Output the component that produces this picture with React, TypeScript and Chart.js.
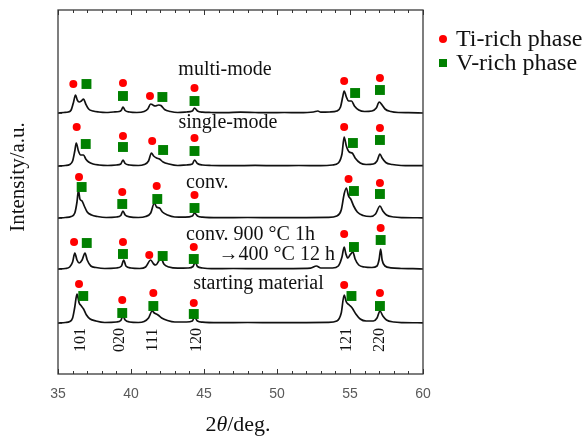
import React, { useEffect, useRef } from "react";
import { Chart, registerables } from "chart.js";
Chart.register(...registerables);

// ---------- data ----------
const xMin = 35;
const xMax = 60;
const xTickStep = 5;
const yMin = 0;
const yMax = 364;

const sampleNames = ["multi-mode", "single-mode", "conv.", "conv. 900 °C 1h", "starting material"];
const sampleSubNames = ["", "", "", "→400 °C 12 h", ""];
const stackOffsets = [261, 208, 156, 105, 51];

// [2θ, intensity above own baseline]
const multiMode: number[][] = [
  [35, 0], [35.4, 0.5], [35.7, 1], [35.9, 3], [36.05, 10], [36.2, 18], [36.32, 13], [36.45, 11], [36.6, 12], [36.75, 14],
  [36.9, 9], [37.1, 4], [37.4, 2], [37.8, 1], [38.3, 0.5], [38.8, 1], [39.2, 1.5], [39.35, 3], [39.45, 6], [39.6, 2.5],
  [39.9, 1], [40.4, 0.5], [40.9, 1.5], [41.15, 4], [41.35, 9], [41.5, 8], [41.65, 7], [41.9, 8], [42.05, 7.5], [42.3, 3.5],
  [42.7, 1.5], [43.2, 0.5], [43.8, 1], [44.2, 2], [44.35, 5], [44.55, 2], [44.9, 0.8], [45.5, 0.5], [46.5, 0.3], [47.5, 0.8],
  [48.5, 0.5], [49.5, 0.3], [50.5, 0.5], [51.5, 0.3], [52.5, 1], [52.8, 2], [53.0, 0.8], [53.6, 1], [54.1, 2], [54.35, 6],
  [54.5, 16], [54.6, 22], [54.75, 16], [54.9, 12], [55.1, 12], [55.3, 7], [55.6, 3], [56.0, 1.5], [56.5, 2], [56.8, 5],
  [57.0, 11], [57.2, 8], [57.4, 4], [57.8, 1.5], [58.3, 0.5], [59, 0.3], [60, 0],
];
const singleMode: number[][] = [
  [35, 0], [35.5, 0.5], [35.8, 1.5], [36.0, 5], [36.15, 15], [36.25, 23], [36.4, 15], [36.55, 11], [36.75, 11], [36.9, 7],
  [37.1, 4], [37.4, 2], [37.8, 1], [38.4, 0.5], [39.0, 1], [39.3, 2], [39.45, 6], [39.6, 2.5], [39.9, 1], [40.5, 0.5],
  [40.9, 1.5], [41.2, 5], [41.4, 13], [41.55, 10], [41.75, 8], [41.95, 7], [42.2, 4], [42.6, 2], [43.2, 0.5], [43.8, 1],
  [44.2, 2], [44.35, 6], [44.55, 2.5], [44.9, 1], [45.5, 0.5], [47, 0.3], [48.5, 0.6], [50, 0.3], [51.5, 0.5], [53, 0.3],
  [53.8, 1], [54.2, 3], [54.45, 12], [54.6, 29], [54.75, 20], [54.95, 14], [55.15, 13], [55.35, 8], [55.7, 3], [56.1, 1.5],
  [56.6, 2], [56.85, 5], [57.05, 12], [57.2, 8], [57.45, 3.5], [57.9, 1.5], [58.5, 0.5], [59.2, 0.3], [60, 0.3],
];
const conventional: number[][] = [
  [35, 0], [35.5, 0.5], [35.9, 1.5], [36.15, 5], [36.3, 16], [36.4, 28], [36.5, 19], [36.65, 17], [36.8, 12], [37.0, 6],
  [37.3, 3], [37.7, 1.5], [38.3, 0.5], [39.0, 1], [39.3, 2.5], [39.45, 7], [39.6, 3], [39.9, 1.2], [40.5, 0.5], [41.0, 1.5],
  [41.35, 5], [41.6, 15], [41.75, 11], [41.95, 10], [42.15, 6], [42.5, 3], [43.0, 1], [43.7, 0.8], [44.2, 2], [44.35, 5],
  [44.55, 2], [44.9, 0.8], [46, 0.3], [48, 0.5], [50, 0.3], [52, 0.4], [53.5, 0.6], [54.1, 2], [54.4, 8], [54.6, 24],
  [54.75, 30], [54.9, 22], [55.05, 19], [55.25, 12], [55.5, 6], [55.9, 2.5], [56.4, 1.5], [56.75, 4], [57.05, 12], [57.25, 7],
  [57.5, 3], [58, 1], [58.6, 0.4], [60, 0.2],
];
const annealed: number[][] = [
  [35, 0], [35.5, 0.5], [35.8, 2], [36.0, 7], [36.15, 16], [36.3, 9], [36.45, 6], [36.65, 9], [36.85, 16], [37.0, 9],
  [37.25, 3], [37.6, 1.5], [38.2, 0.5], [39.0, 1], [39.35, 3], [39.5, 9], [39.65, 3], [40.0, 1], [40.6, 0.5], [41.0, 2],
  [41.35, 9], [41.55, 5], [41.7, 4], [41.9, 8], [42.05, 11], [42.25, 5], [42.6, 2], [43.2, 0.8], [43.9, 1], [44.25, 2.5],
  [44.4, 7], [44.55, 2.5], [44.9, 1], [45.5, 0.3], [47, 0.5], [49, 0.3], [51, 0.4], [52.3, 0.8], [52.7, 3], [53.0, 1],
  [53.8, 1], [54.2, 3], [54.45, 12], [54.6, 22], [54.72, 15], [54.85, 11], [55.0, 14], [55.2, 17], [55.35, 10], [55.6, 4],
  [56.0, 2], [56.5, 1.5], [56.85, 3], [57.0, 10], [57.1, 20], [57.2, 9], [57.4, 3], [57.8, 1.2], [58.5, 0.5], [59.3, 0.3],
  [60, 0],
];
const startingMaterial: number[][] = [
  [35, 0], [35.5, 0.5], [35.8, 1.5], [36.0, 5], [36.15, 16], [36.3, 29], [36.45, 20], [36.6, 17], [36.75, 14], [36.95, 8],
  [37.2, 4], [37.6, 2], [38.2, 0.5], [39.0, 1], [39.3, 2.5], [39.45, 7], [39.6, 3], [39.9, 1], [40.5, 0.5], [40.9, 1.5],
  [41.2, 5], [41.45, 12], [41.6, 10], [41.85, 8], [42.1, 5], [42.5, 2.5], [43.0, 1], [43.8, 1], [44.2, 2], [44.35, 6],
  [44.55, 2], [44.9, 0.8], [46, 0.3], [48, 0.5], [50, 0.3], [52, 0.4], [53.5, 0.6], [54.1, 2], [54.4, 10], [54.6, 28],
  [54.75, 21], [54.95, 18], [55.15, 15], [55.4, 9], [55.7, 4], [56.1, 2], [56.6, 2], [56.85, 5], [57.05, 12], [57.25, 7],
  [57.5, 3], [58, 1], [58.6, 0.4], [60, 0.2],
];
const traces = [multiMode, singleMode, conventional, annealed, startingMaterial];

// marker positions [2θ, absolute stacked intensity]
const tiRichMarks: number[][] = [
  [36.05, 290], [39.45, 291], [41.3, 278], [44.35, 286], [54.6, 293], [57.05, 296],
  [36.28, 247], [39.45, 238], [41.45, 233], [44.35, 236], [54.6, 247], [57.05, 246],
  [36.44, 197], [39.4, 182], [41.76, 188], [44.35, 179], [54.9, 195], [57.05, 191],
  [36.1, 132], [39.45, 132], [41.25, 119], [44.3, 127], [54.6, 140], [57.1, 146],
  [36.44, 90], [39.4, 74], [41.53, 81], [44.3, 71], [54.6, 89], [57.05, 81],
];
const vRichMarks: number[][] = [
  [36.95, 290], [39.45, 278], [42.15, 277], [44.35, 273], [55.35, 281], [57.05, 284],
  [36.9, 230], [39.45, 227], [42.2, 224], [44.35, 223], [55.2, 231], [57.05, 234],
  [36.62, 187], [39.4, 170], [41.8, 175], [44.35, 166], [55.27, 183], [57.05, 180],
  [36.97, 131], [39.45, 120], [42.17, 118], [44.3, 115], [55.27, 127], [57.1, 134],
  [36.73, 78], [39.4, 61], [41.53, 68], [44.3, 60], [55.1, 78], [57.05, 68],
];

const hklLabels = ["101", "020", "111", "120", "121", "220"];
const hklPositions = [36.58, 39.25, 41.5, 44.5, 54.8, 57.05];

const legendLabels = ["Ti-rich phase", "V-rich phase"];
const xTitleParts = ["2", "θ", "/deg."];
const yTitle = "Intensity/a.u.";

// ---------- styles ----------
const SERIF = "'Liberation Serif', 'Times New Roman', serif";
const SANS = "'Liberation Sans', Arial, sans-serif";
const RED = "#ff0000";
const GREEN = "#008000";

const decorPlugin = {
  id: "decor",
  afterDraw(chart: any) {
    const { ctx, chartArea: a, scales } = chart;
    const xs = scales.x;
    const ys = scales.y;
    const X = (v: number) => xs.getPixelForValue(v);
    const Y = (v: number) => ys.getPixelForValue(v);
    ctx.save();
    // frame
    ctx.strokeStyle = "#3a3a3a";
    ctx.lineWidth = 1.3;
    ctx.strokeRect(a.left, a.top, a.right - a.left, a.bottom - a.top);
    // x ticks (bottom & top, inward)
    ctx.lineWidth = 1;
    ctx.strokeStyle = "#333";
    for (let v = xMin; v <= xMax; v += 1) {
      const len = v % 5 === 0 ? 5 : 3;
      const px = Math.round(X(v)) + 0.5;
      ctx.beginPath();
      ctx.moveTo(px, a.bottom);
      ctx.lineTo(px, a.bottom - len);
      ctx.moveTo(px, a.top);
      ctx.lineTo(px, a.top + len);
      ctx.stroke();
    }
    // y ticks at baselines
    stackOffsets.forEach((o) => {
      const py = Math.round(Y(o)) + 0.5;
      ctx.beginPath();
      ctx.moveTo(a.left, py);
      ctx.lineTo(a.left + 4, py);
      ctx.stroke();
    });
    // hkl labels
    ctx.fillStyle = "#111";
    ctx.font = `16px ${SERIF}`;
    ctx.textAlign = "center";
    ctx.textBaseline = "middle";
    hklLabels.forEach((t, i) => {
      ctx.save();
      ctx.translate(X(hklPositions[i]), Y(34));
      ctx.rotate(-Math.PI / 2);
      ctx.fillText(t, 0, 0);
      ctx.restore();
    });
    // sample labels
    ctx.font = `20px ${SERIF}`;
    ctx.textBaseline = "alphabetic";
    ctx.textAlign = "center";
    ctx.fillText(sampleNames[0], X(46.44), Y(299));
    ctx.fillText(sampleNames[1], X(46.64), Y(246));
    ctx.textAlign = "left";
    ctx.fillText(sampleNames[2], X(43.77), Y(186));
    ctx.fillText(sampleNames[3], X(43.77), Y(134));
    ctx.textAlign = "right";
    ctx.fillText(sampleSubNames[3], X(53.97), Y(114));
    ctx.textAlign = "center";
    ctx.fillText(sampleNames[4], X(48.73), Y(85));
    // legend
    ctx.fillStyle = RED;
    ctx.beginPath();
    ctx.arc(443, 39, 4, 0, Math.PI * 2);
    ctx.fill();
    ctx.fillStyle = GREEN;
    ctx.fillRect(439, 59, 8, 8);
    ctx.fillStyle = "#111";
    ctx.font = `24px ${SERIF}`;
    ctx.textAlign = "left";
    ctx.textBaseline = "alphabetic";
    ctx.fillText(legendLabels[0], 456, 46);
    ctx.fillText(legendLabels[1], 456, 70);
    // x title
    const fs = 22;
    ctx.font = `${fs}px ${SERIF}`;
    const w0 = ctx.measureText(xTitleParts[0]).width;
    ctx.font = `italic ${fs}px ${SERIF}`;
    const w1 = ctx.measureText(xTitleParts[1]).width;
    ctx.font = `${fs}px ${SERIF}`;
    const w2 = ctx.measureText(xTitleParts[2]).width;
    let sx = 238 - (w0 + w1 + w2) / 2;
    const by = 431;
    ctx.fillText(xTitleParts[0], sx, by);
    sx += w0;
    ctx.font = `italic ${fs}px ${SERIF}`;
    ctx.fillText(xTitleParts[1], sx, by);
    sx += w1;
    ctx.font = `${fs}px ${SERIF}`;
    ctx.fillText(xTitleParts[2], sx, by);
    // y title
    ctx.save();
    ctx.translate(18, 177);
    ctx.rotate(-Math.PI / 2);
    ctx.textAlign = "center";
    ctx.textBaseline = "middle";
    ctx.font = `21px ${SERIF}`;
    ctx.fillText(yTitle, 0, 0);
    ctx.restore();
    ctx.restore();
  },
};

export default function App() {
  const ref = useRef<HTMLCanvasElement | null>(null);
  useEffect(() => {
    if (!ref.current) return;
    const lineSets = traces.map((tr, i) => ({
      type: "line" as const,
      label: sampleNames[i],
      data: tr.map(([x, y]) => ({ x, y: y + stackOffsets[i] })),
      borderColor: "#111",
      borderWidth: 1.7,
      pointRadius: 0,
      cubicInterpolationMode: "monotone" as const,
      fill: false,
      order: 2,
    }));
    const chart = new Chart(ref.current, {
      type: "line",
      data: {
        datasets: [
          ...lineSets,
          {
            type: "line",
            label: legendLabels[0],
            data: tiRichMarks.map(([x, y]) => ({ x, y })),
            showLine: false,
            pointStyle: "circle",
            pointRadius: 4,
            backgroundColor: RED,
            borderColor: RED,
            borderWidth: 0,
            order: 1,
          },
          {
            type: "line",
            label: legendLabels[1],
            data: vRichMarks.map(([x, y]) => ({ x, y })),
            showLine: false,
            pointStyle: "rect",
            pointRadius: 7,
            backgroundColor: GREEN,
            borderColor: GREEN,
            borderWidth: 0,
            order: 1,
          },
        ],
      },
      options: {
        animation: false,
        responsive: true,
        maintainAspectRatio: false,
        layout: { padding: { left: 58, right: 162, top: 10, bottom: 23 } },
        plugins: { legend: { display: false }, tooltip: { enabled: false } },
        scales: {
          x: {
            type: "linear",
            min: xMin,
            max: xMax,
            ticks: {
              stepSize: xTickStep,
              color: "#595959",
              font: { family: SANS, size: 14 },
              padding: 11.6,
            },
            grid: { display: false, drawTicks: false },
            border: { display: false },
          },
          y: {
            type: "linear",
            min: yMin,
            max: yMax,
            display: false,
          },
        },
      },
      plugins: [decorPlugin],
    });
    return () => chart.destroy();
  }, []);
  return (
    <div style={{ position: "absolute", left: 0, top: 0, width: 585, height: 437, background: "#fff" }}>
      <canvas ref={ref} />
    </div>
  );
}
